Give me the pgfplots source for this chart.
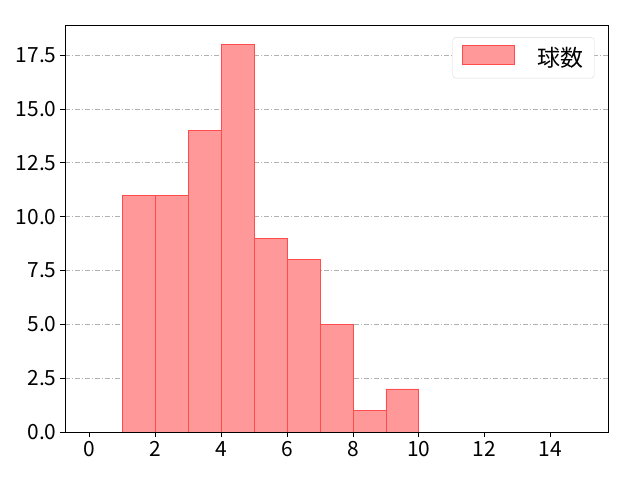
\documentclass[border=0pt]{standalone}
\usepackage{fontspec}
\setmainfont{Noto Sans CJK JP}
\usepackage{pgfplots}
\pgfplotsset{compat=1.18}
\definecolor{barfill}{HTML}{FF9999}
\definecolor{baredge}{HTML}{FF4D4D}
\begin{document}
\begin{tikzpicture}
\path (-65bp,-48bp) rectangle (575bp,432bp);
\begin{axis}[
  at={(0,0)}, anchor=south west,
  scale only axis, width=543bp, height=407bp,
  xmin=-0.75, xmax=15.75, ymin=0, ymax=18.9,
  xtick={0,2,...,14}, ytick={0,2.5,...,17.5},
  yticklabel style={/pgf/number format/.cd, fixed, fixed zerofill, precision=1},
  /pgf/number format/assume math mode=true,
  tick label style={font=\fontsize{21}{23}\selectfont},
  xticklabel style={yshift=-1bp},
  ymajorgrids, grid style={gray!60, dash pattern=on 5pt off 2pt on 1pt off 2pt, line width=0.7pt},
  axis line style={line width=0.8pt},
  tick style={black, line width=0.8pt}, tick align=outside, major tick length=5bp,
  xtick pos=bottom, ytick pos=left,
  legend style={at={(0.975,0.97)}, anchor=north east, draw=gray!30, rounded corners=3pt,
    font=\fontsize{23}{25}\selectfont, inner xsep=9pt, inner ysep=8pt},
  legend image code/.code={\draw[sharp corners, fill=barfill, draw=baredge] (0cm,-0.25cm) rectangle (1.85cm,0.42cm);},
  legend cell align=left,
]
\addplot[ybar interval, fill=barfill, draw=baredge, line width=0.7pt]
  coordinates {(1,11) (2,11) (3,14) (4,18) (5,9) (6,8) (7,5) (8,1) (9,2) (10,2)};
\addlegendentry{\hspace{0.9em}球数}
\end{axis}
\end{tikzpicture}
\end{document}
